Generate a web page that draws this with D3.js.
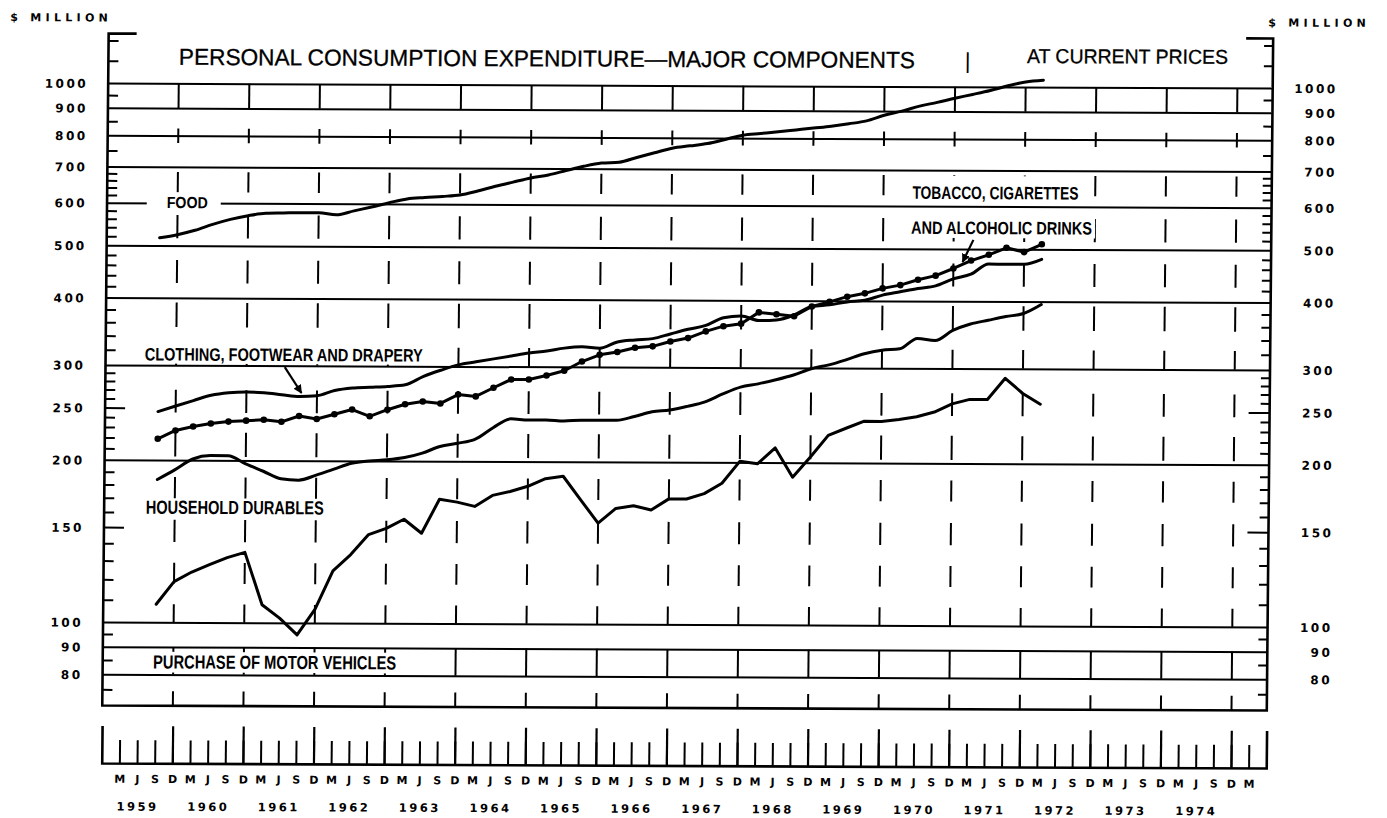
<!DOCTYPE html>
<html><head><meta charset="utf-8">
<script src="https://cdn.jsdelivr.net/npm/d3@7"></script>
<style>
html,body{margin:0;padding:0;background:#fff;}
svg{display:block;}
</style></head><body>
<svg id="chart" width="1387" height="818"></svg>
<script>
// ---------------- data (quarterly, $ million, log scale) ----------------
const quarters = [
 "1959-09","1959-12",
 "1960-03","1960-06","1960-09","1960-12",
 "1961-03","1961-06","1961-09","1961-12",
 "1962-03","1962-06","1962-09","1962-12",
 "1963-03","1963-06","1963-09","1963-12",
 "1964-03","1964-06","1964-09","1964-12",
 "1965-03","1965-06","1965-09","1965-12",
 "1966-03","1966-06","1966-09","1966-12",
 "1967-03","1967-06","1967-09","1967-12",
 "1968-03","1968-06","1968-09","1968-12",
 "1969-03","1969-06","1969-09","1969-12",
 "1970-03","1970-06","1970-09","1970-12",
 "1971-03","1971-06","1971-09","1971-12",
 "1972-03"
];
const food = [517,524,534,548,560,569,575,576,577,577,572,582,592,603,613,617,620,624,635,648,660,672,681,694,707,717,720,735,750,765,773,781,795,810,816,822,829,836,843,852,863,884,900,920,935,952,968,985,1005,1022,1030];
const clothing = [246,252,258,264,267,268,267,265,263,264,270,273,274,275,277,287,295,302,306,310,314,318,321,325,327,325,334,337,339,346,353,359,371,374,367,368,376,390,393,398,401,410,416,422,427,440,449,469,469,469,479];
const tobacco = [219,227,231,234,236,237,238,236,242,239,244,249,242,249,255,258,256,266,264,274,284,284,289,295,307,316,320,326,328,335,340,350,358,362,380,377,374,390,398,407,413,422,428,438,446,460,476,488,503,494,511];
const durables = [184,192,201,204,204,197,191,185,184,188,193,198,200,201,203,207,213,216,220,231,240,239,239,238,239,239,239,243,248,250,254,259,268,276,280,285,291,299,304,311,319,324,326,341,338,353,363,369,375,380,395];
const motorVehicles = [108,119,124,128,132,135,108,102,95,106,125,134,146,150,156,147,170,168,165,173,176,180,186,188,170,154,164,166,163,171,171,175,183,201,199,213,188,205,225,232,239,239,241,244,249,258,263,263,288,270,258];

const gridValues = [80,90,100,200,300,400,500,600,700,800,900,1000];
const axisLabels = [80,90,100,150,200,250,300,400,500,600,700,800,900,1000];
const minorTicks = [75,85,95,110,120,130,140,160,170,180,190,210,220,230,240,260,270,280,290,320,340,360,380,420,440,460,480,520,540,560,580,620,640,660,680,750,850,950,1100,1200];
const majorTicks = [150,250];
const quarterLetters = ["D","M","J","S"];
const yearLabels = ["1959","1960","1961","1962","1963","1964","1965","1966","1967","1968","1969","1970","1971","1972","1973","1974"];
// value ranges of the dashed year-end guides
const yearDashes = [[1000,900],[825,775],[685,628],[570,516],[470,426],[392,353],[325,300],[270,245],[225,203],[186,170],[155,141],[129,118],[108,100],[90,80],[74.5,70]];

// ---------------- layout ----------------
const svg = d3.select("#chart");
svg.append("rect").attr("width",1387).attr("height",818).attr("fill","#fff");
const root = svg.append("g").attr("transform","matrix(1,0.0043,-0.0095,1,3.5,-2.95)");
const INK = "#000";
const x = d3.scaleLinear().domain([1959,1975.5]).range([105.5,1270]);
const y = d3.scaleLog().domain([70,1236]).range([708,36]);
const T = quarters.map(s => { const [yr,m] = s.split("-").map(Number); return yr + m/12; });
const xL = x(1959), xR = x(1975.5), yTop = y(1236), yBot = y(70);

const digitFont = g => g.attr("font-family","'DejaVu Sans', Verdana, sans-serif").attr("font-weight","bold").attr("font-size",12).attr("letter-spacing","2.5px").attr("fill",INK);

// gridlines
root.append("g").attr("transform",`translate(${xL},0)`)
  .call(d3.axisLeft(y).tickValues(gridValues).tickSize(-(xR-xL)).tickFormat(""))
  .call(g=>g.select(".domain").remove())
  .call(g=>g.selectAll("line").attr("stroke",INK).attr("stroke-width",2));

// dashed year-end guides
const years = d3.range(1960,1976);
root.append("g").selectAll("line")
  .data(years.flatMap(yr => yearDashes.map(d => ({yr, hi:d[0], lo:d[1]}))))
  .join("line")
  .attr("x1",d=>x(d.yr)).attr("x2",d=>x(d.yr))
  .attr("y1",d=>y(d.hi)).attr("y2",d=>y(d.lo))
  .attr("stroke",INK).attr("stroke-width",2);

// frame
root.append("path")
  .attr("d",`M${xL+28},${yTop}H${xL}V${yBot}H${xR}V${yTop}H${xR-27}`)
  .attr("fill","none").attr("stroke",INK).attr("stroke-width",2.6);

// left ticks
const tickStyle = g => g.call(gg=>gg.select(".domain").remove()).selectAll("line").attr("stroke",INK).attr("stroke-width",2);
root.append("g").attr("transform",`translate(${xL},0)`).call(d3.axisLeft(y).tickValues(minorTicks).tickSize(-10).tickFormat("")).call(tickStyle);
root.append("g").attr("transform",`translate(${xL},0)`).call(d3.axisLeft(y).tickValues(majorTicks).tickSize(-20).tickFormat("")).call(tickStyle);
// right ticks
root.append("g").attr("transform",`translate(${xR},0)`).call(d3.axisRight(y).tickValues(minorTicks).tickSize(-9).tickFormat("")).call(tickStyle);
root.append("g").attr("transform",`translate(${xR},0)`).call(d3.axisRight(y).tickValues(majorTicks).tickSize(-21).tickFormat("")).call(tickStyle);

// left labels
root.append("g").attr("transform",`translate(${xL},0)`)
  .call(d3.axisLeft(y).tickValues(axisLabels).tickSize(0).tickPadding(20).tickFormat(d3.format("d")))
  .call(g=>g.select(".domain").remove())
  .call(g=>g.selectAll("text").call(digitFont).attr("dy","0.36em"));
// right labels
root.append("g").attr("transform",`translate(${xR},0)`)
  .call(d3.axisRight(y).tickValues(axisLabels).tickSize(0).tickFormat(d3.format("d")))
  .call(g=>g.select(".domain").remove())
  .call(g=>g.selectAll("text").call(digitFont).attr("x",65).attr("text-anchor","end").attr("dy","0.36em"));

// unit labels
root.append("text").attr("x",7).attr("y",24).text("$ MILLION").call(digitFont).attr("font-size",11).attr("textLength",100).attr("lengthAdjust","spacing");
root.append("text").attr("x",1265).attr("y",24).text("$ MILLION").call(digitFont).attr("font-size",11).attr("textLength",100).attr("lengthAdjust","spacing");

// titles
const titleFont = "'Liberation Sans', Arial, Helvetica, sans-serif";
root.append("text").attr("x",176).attr("y",67).text("PERSONAL CONSUMPTION EXPENDITURE—MAJOR COMPONENTS")
  .attr("font-family",titleFont).attr("font-size",23).attr("fill",INK)
  .attr("stroke",INK).attr("stroke-width",0.3)
  .attr("textLength",736).attr("lengthAdjust","spacingAndGlyphs");
root.append("text").attr("x",962).attr("y",67).text("|")
  .attr("font-family",titleFont).attr("font-size",22).attr("fill",INK);
root.append("text").attr("x",1024).attr("y",61.5).text("AT CURRENT PRICES")
  .attr("font-family",titleFont).attr("font-size",20).attr("fill",INK)
  .attr("stroke",INK).attr("stroke-width",0.3)
  .attr("textLength",201).attr("lengthAdjust","spacingAndGlyphs");

// series labels (anchored in data coordinates: t = time, v = value at baseline)
const labelFont = "'Liberation Sans Narrow', 'Liberation Sans', Arial, sans-serif";
const seriesLabels = [
  {text:"FOOD", t:1959.846, v:587, size:16, len:41, pad:[20,13,4,3]},
  {text:"TOBACCO, CIGARETTES", t:1970.41, v:619, size:18, len:166, pad:[3,3,10,3]},
  {text:"AND ALCOHOLIC DRINKS", t:1970.395, v:533, size:18, len:181, pad:[3,3,4,4]},
  {text:"CLOTHING, FOOTWEAR AND DRAPERY", t:1959.554, v:306, size:18, len:278, pad:[3,3,3,3]},
  {text:"HOUSEHOLD DURABLES", t:1959.589, v:159, size:19, len:178, pad:[2,2,1,2]},
  {text:"PURCHASE OF MOTOR VEHICLES", t:1959.714, v:82.1, size:19, len:243, pad:[3,3,3,4]}
];
const lblG = root.append("g");
seriesLabels.forEach(l => {
  const bg = lblG.append("rect").attr("fill","#fff");
  lblG.append("text").attr("x",x(l.t)).attr("y",y(l.v)).text(l.text)
    .attr("font-family",labelFont).attr("font-weight","bold").attr("font-size",l.size).attr("fill",INK)
    .attr("textLength",l.len).attr("lengthAdjust","spacingAndGlyphs");
  const cap = l.size*0.72;
  bg.attr("x",x(l.t)-l.pad[0]).attr("width",l.len+l.pad[0]+l.pad[1])
    .attr("y",y(l.v)-cap-l.pad[2]).attr("height",cap+l.pad[2]+l.pad[3]);
});

// series lines
const smooth = d3.line().x((d,i)=>x(T[i])).y(d=>y(d)).curve(d3.curveMonotoneX);
const sharp = d3.line().x((d,i)=>x(T[i])).y(d=>y(d));
const seriesG = root.append("g").attr("fill","none").attr("stroke",INK).attr("stroke-width",3).attr("stroke-linejoin","round").attr("stroke-linecap","round");
seriesG.append("path").attr("d",smooth(food));
seriesG.append("path").attr("d",smooth(clothing));
seriesG.append("path").attr("d",sharp(tobacco));
seriesG.append("path").attr("d",smooth(durables));
seriesG.append("path").attr("d",sharp(motorVehicles));
root.append("g").selectAll("circle").data(tobacco).join("circle")
  .attr("cx",(d,i)=>x(T[i])).attr("cy",d=>y(d)).attr("r",3.3).attr("fill",INK);

// arrows
const defs = svg.append("defs");
defs.append("marker").attr("id","arr").attr("viewBox","0 0 10 10").attr("refX",9).attr("refY",5)
  .attr("markerWidth",4).attr("markerHeight",4).attr("orient","auto").attr("markerUnits","strokeWidth")
  .append("path").attr("d","M0,0L10,5L0,10Z").attr("fill",INK);
const arrows = [
  {from:[1961.54,298], to:[1961.78,267]},
  {from:[1971.28,520], to:[1971.13,473]}
];
root.append("g").selectAll("line").data(arrows).join("line")
  .attr("x1",d=>x(d.from[0])).attr("y1",d=>y(d.from[1]))
  .attr("x2",d=>x(d.to[0])).attr("y2",d=>y(d.to[1]))
  .attr("stroke",INK).attr("stroke-width",2.2).attr("marker-end","url(#arr)");

// bottom time axis
const axY = 765.5;
const quarterTicks = d3.range(1959.25, 1975.3, 0.25);
const qAxis = root.append("g").attr("transform",`translate(0,${axY})`)
  .call(d3.axisBottom(x).tickValues(quarterTicks).tickSize(-23).tickSizeOuter(-37).tickPadding(12)
    .tickFormat(t => quarterLetters[Math.round((t - Math.floor(t))*4) % 4]));
qAxis.select(".domain").attr("stroke",INK).attr("stroke-width",2.6);
qAxis.selectAll("line").attr("stroke",INK).attr("stroke-width",2);
qAxis.selectAll("text").attr("font-family","'DejaVu Sans', Verdana, sans-serif").attr("font-weight","bold").attr("font-size",11).attr("fill",INK);
root.append("g").attr("transform",`translate(0,${axY})`)
  .call(d3.axisBottom(x).tickValues(years).tickSize(-37).tickFormat(""))
  .call(g=>g.select(".domain").remove())
  .call(g=>g.selectAll("line").attr("stroke",INK).attr("stroke-width",2.2));
root.append("g").selectAll("text").data(yearLabels).join("text")
  .attr("x",d=>x(+d+0.5)+1).attr("y",813).attr("text-anchor","middle").text(d=>d).call(digitFont).attr("font-size",11.5);
</script>
</body></html>
